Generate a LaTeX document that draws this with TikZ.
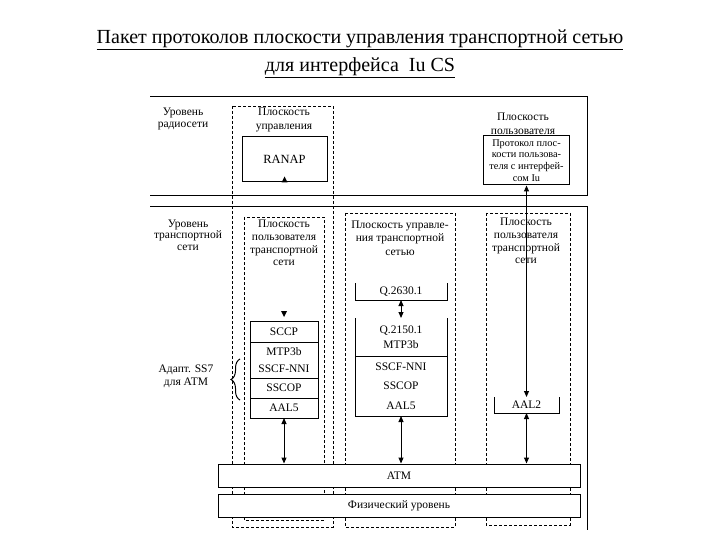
\documentclass[tikz,border=0pt]{standalone}
\usepackage{fontspec}
\setmainfont{Liberation Serif}
\newfontfamily\titlefont{Liberation Serif}
\usetikzlibrary{arrows.meta,positioning,decorations.pathreplacing}
\newcommand\lblfont{\fontsize{11.5}{13.5}\selectfont}
\newcommand\smallfont{\fontsize{10.3}{11.8}\selectfont}

\begin{document}
\begin{tikzpicture}[x=1pt, y=-1pt, line width=1pt,
  lbl/.style={align=center, inner sep=0pt, font=\lblfont},
  plane/.style={draw, line width=0.8pt, dash pattern=on 3pt off 2pt},
  layer/.style={draw, minimum width=#1, inner sep=0pt, outer sep=0pt, align=center,
                anchor=north, font=\lblfont},
  darr/.style={{Triangle[length=6pt,width=5pt]}-{Triangle[length=6pt,width=5pt]}}
]
\useasboundingbox (0,0) rectangle (720,540);

% title
\node[align=center, font=\titlefont\fontsize{20}{28}\selectfont] (title) at (360,54)
  {\underline{Пакет протоколов плоскости управления транспортной сетью}\\
   \underline{для интерфейса\ \ Iu CS}};

% levels
\draw (150,97) -- (587,97) -- (587,196) -- (150,196);
\draw (150,207) -- (587,207) -- (587,530);
\node[lbl, font=\fontsize{11.5}{12.5}\selectfont] (radio) at (183,119) {Уровень\\радиосети};
\node[lbl, font=\fontsize{11.5}{11.5}\selectfont] (trans) at (188,235) {Уровень\\транспортной\\сети};

% planes
\draw[plane] (232,106) rectangle (333,527);
\draw[plane] (244,217) rectangle (324,520);
\draw[plane] (345,213) rectangle (455,527);
\draw[plane] (486,213) rectangle (570,525);
\node[lbl] (cp) at (284,120) {Плоскость\\управления};
\node[lbl, font=\fontsize{11.5}{12.7}\selectfont] (upone) at (284,243) {Плоскость\\пользователя\\транспортной\\сети};
\node[lbl] (tcp) at (400,238) {Плоскость управле-\\ния транспортной\\сетью};
\node[lbl, font=\fontsize{11.5}{12.7}\selectfont] (upthree) at (526,241) {Плоскость\\пользователя\\транспортной\\сети};
\node[lbl] (up) at (523,124) {Плоскость\\пользователя};

% radio network level
\node[draw, minimum width=85pt, minimum height=45pt, font=\fontsize{12.5}{14}\selectfont] (ranap) at (284.5,159.5) {RANAP};
\node[draw, align=center, inner sep=0pt, font=\smallfont, minimum width=86pt, minimum height=49pt] (upproto) at (526.5,160.5)
  {Протокол плос-\\кости пользова-\\теля с интерфей-\\сом Iu};
\fill (ranap.south) ++(-3,0) -- ++(6,0) -- ++(-3,-6) -- cycle;

% user plane stack
\node[layer=68pt, minimum height=21pt] (sccp) at (284,321) {SCCP};
\node[layer=68pt, minimum height=36pt, below=0pt of sccp] (mtp) {MTP3b\\[3pt]SSCF-NNI};
\node[layer=68pt, minimum height=20pt, below=0pt of mtp] (sscop) {SSCOP};
\node[layer=68pt, minimum height=20pt, below=0pt of sscop] (aalfive) {AAL5};
\fill (sccp.north) ++(-3,-10) -- ++(6,0) -- ++(-3,6) -- cycle;
\draw[decorate, decoration={brace, amplitude=9pt}] (240,400) -- (240,359);
\node[lbl] (adapt) at (186,376.5) {Адапт. SS7\\для ATM};

% transport control plane stack
\node[layer=92pt, draw=none, minimum height=17pt] (qcs) at (401,283) {Q.2630.1};
\draw (qcs.north west) |- (qcs.south east) -- (qcs.north east);
\node[layer=92pt, draw=none, minimum height=38pt] (qtr) at (401,318) {Q.2150.1\\[1.5pt]MTP3b};
\draw (qtr.north west) |- (qtr.south east) -- (qtr.north east);
\node[layer=92pt, minimum height=60pt, below=0pt of qtr] (sscf) {SSCF-NNI\\[6pt]SSCOP\\[6pt]AAL5};

% transport user plane
\node[layer=65pt, draw=none, minimum height=16pt] (aaltwo) at (526.5,397) {AAL2};
\draw (aaltwo.north west) |- (aaltwo.south east) -- (aaltwo.north east);

% common layers
\node[draw, fill=white, minimum width=362pt, minimum height=23pt, font=\lblfont] (atm) at (399,475.5) {ATM};
\node[draw, fill=white, minimum width=362pt, minimum height=23pt, font=\lblfont] (phys) at (399,505.5) {Физический уровень};

% connectors
\draw[darr] (aalfive.south) -- (aalfive.south |- atm.north);
\draw[darr] (qcs.south) -- (qtr.north);
\draw[darr] (sscf.south) -- (sscf.south |- atm.north);
\draw[darr] (upproto.south) -- (aaltwo.north);
\draw[darr] (aaltwo.south) -- (aaltwo.south |- atm.north);
\end{tikzpicture}
\end{document}
